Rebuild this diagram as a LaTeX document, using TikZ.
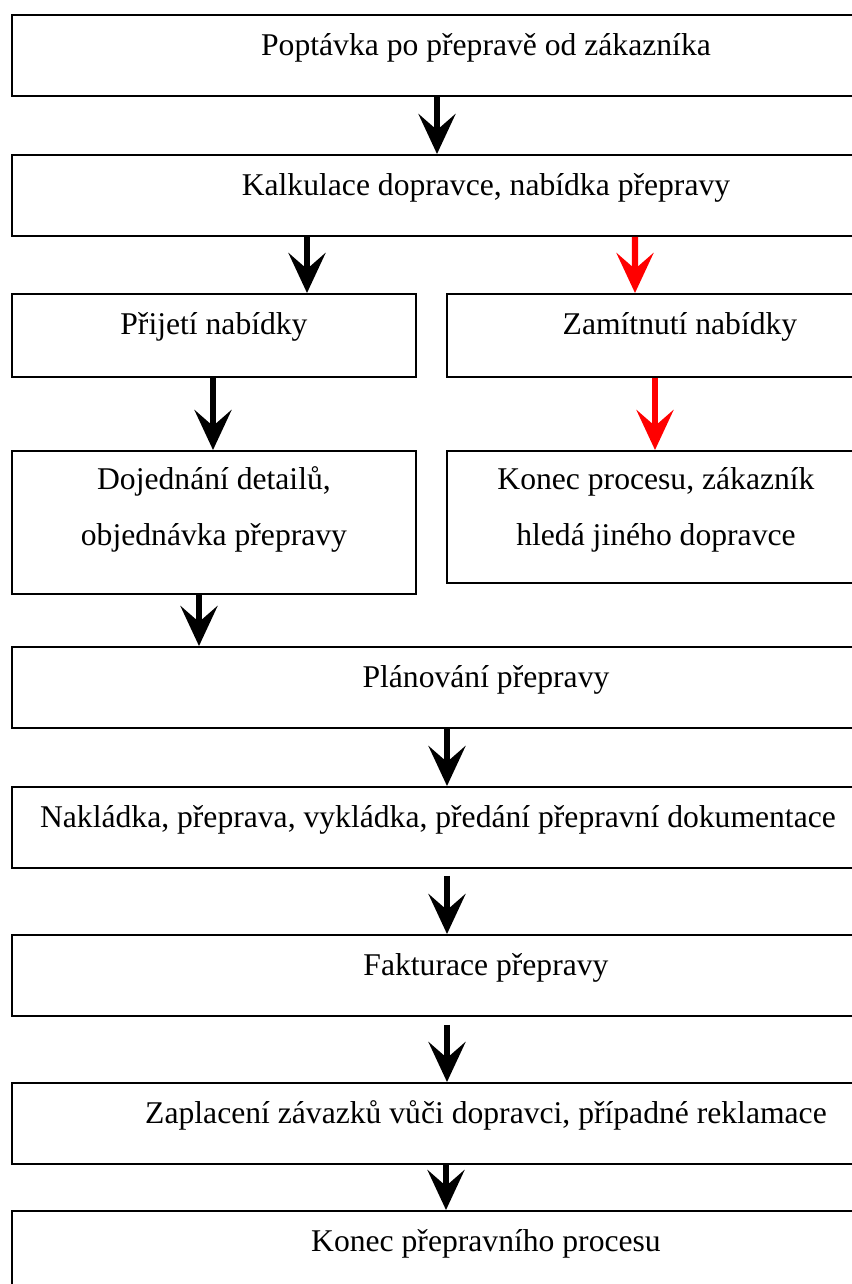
\documentclass[tikz,border=0pt]{standalone}
\usepackage{fontspec}
\setmainfont{Liberation Serif}
\usetikzlibrary{arrows.meta,calc}
\definecolor{odmitred}{RGB}{255,0,0}

\begin{document}
\begin{tikzpicture}[
    krok/.style={draw,line width=1.1pt,anchor=north west,inner xsep=0pt,inner ysep=0pt,
      align=center,font=\fontsize{18pt}{32.4pt}\selectfont,text height=0.82cm,text depth=0.8cm},
    sipka/.style={line width=3.5pt,-{Stealth[length=0.8cm,width=0.74cm,inset=0.32cm]}}]
        \useasboundingbox (0,0) rectangle (17.04,-25.68);
        % Poptavka a kalkulace
        \node[krok,minimum width=18.96cm] (poptavka) at (0.22,-0.28) {Poptávka po přepravě od zákazníka};
        \node[krok,minimum width=18.96cm] (kalkulace) at (0.22,-3.08) {Kalkulace dopravce, nabídka přepravy};
        % Prijeti / zamitnuti nabidky
        \node[krok,minimum width=8.08cm,text depth=0.84cm] (prijeti) at (0.22,-5.86) {Přijetí nabídky};
        \node[krok,minimum width=9.32cm,text depth=0.84cm] (zamitnuti) at (8.92,-5.86) {Zamítnutí nabídky};
        \node[krok,minimum width=8.08cm,text height=1.9cm,text depth=0.96cm] (dojednani) at (0.22,-9.0)
          {Dojednání detailů,\\objednávka přepravy};
        \node[krok,minimum width=8.36cm,text height=1.9cm,text depth=0.74cm] (konecproc) at (8.92,-9.0)
          {Konec procesu, zákazník\\hledá jiného dopravce};
        % Dalsi kroky prepravy
        \node[krok,minimum width=18.96cm] (planovani) at (0.22,-12.92) {Plánování přepravy};
        \node[krok,minimum width=17.04cm] (nakladka) at (0.22,-15.72) {Nakládka, přeprava, vykládka, předání přepravní dokumentace};
        \node[krok,minimum width=18.96cm] (fakturace) at (0.22,-18.68) {Fakturace přepravy};
        \node[krok,minimum width=18.96cm] (zaplaceni) at (0.22,-21.64) {Zaplacení závazků vůči dopravci, případné reklamace};
        \node[krok,minimum width=18.96cm] (konecprep) at (0.22,-24.2) {Konec přepravního procesu};
        % Sipky
        \draw[sipka] ([xshift=8.52cm]poptavka.south west) -- ([xshift=8.52cm]kalkulace.north west);
        \draw[sipka] ([xshift=5.92cm]kalkulace.south west) -- ([xshift=5.92cm]prijeti.north west);
        \draw[sipka,odmitred] ([xshift=12.48cm]kalkulace.south west) -- ([xshift=3.78cm]zamitnuti.north west);
        \draw[sipka] ([xshift=4.04cm]prijeti.south west) -- ([xshift=4.04cm]dojednani.north west);
        \draw[sipka,odmitred] ([xshift=4.18cm]zamitnuti.south west) -- ([xshift=4.18cm]konecproc.north west);
        \draw[sipka] ([xshift=3.76cm]dojednani.south west) -- ([xshift=3.76cm]planovani.north west);
        \draw[sipka] ([xshift=8.72cm]planovani.south west) -- ([xshift=8.72cm]nakladka.north west);
        \draw[sipka,shorten <=0.14cm] ([xshift=8.72cm]nakladka.south west) -- ([xshift=8.72cm]fakturace.north west);
        \draw[sipka,shorten <=0.16cm] ([xshift=8.72cm]fakturace.south west) -- ([xshift=8.72cm]zaplaceni.north west);
        \draw[sipka] ([xshift=8.70cm]zaplaceni.south west) -- ([xshift=8.70cm]konecprep.north west);
      \end{tikzpicture}
\end{document}
